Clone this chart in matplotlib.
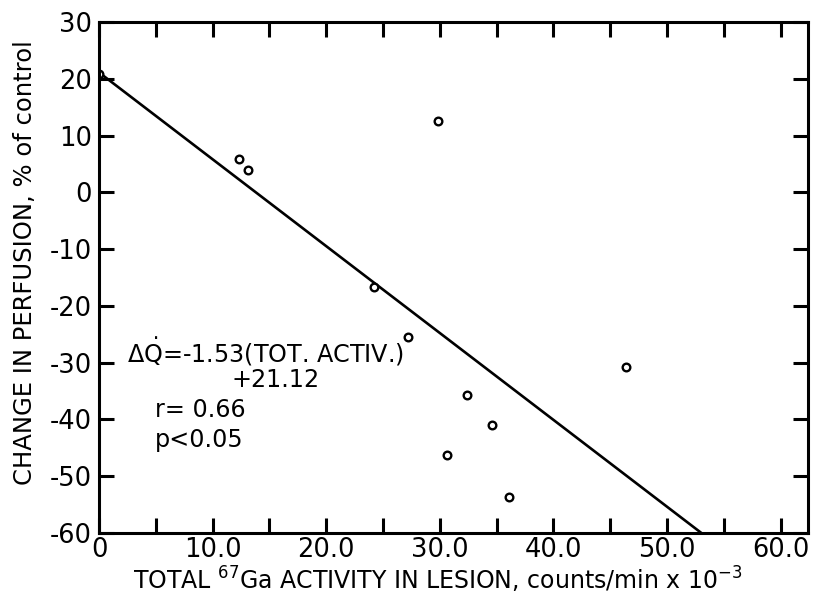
import matplotlib
matplotlib.use("Agg")
import matplotlib.pyplot as plt
import numpy as np

plt.rcParams['axes.unicode_minus'] = False
plt.rcParams['mathtext.default'] = 'regular'
plt.rcParams['font.family'] = ['DejaVu Sans']

# data points
activity = [0.0, 12.3, 13.1, 24.2, 27.2, 29.8, 30.6, 32.4, 34.6, 36.1, 46.4]
perfusion = [20.8, 5.9, 3.9, -16.7, -25.5, 12.6, -46.2, -35.7, -40.9, -53.6, -30.7]

# regression: dQ = -1.53 * activity + 21.12
slope = -1.53
intercept = 21.12

xticks = [0, 10, 20, 30, 40, 50, 60]
xticklabels = ["0", "10.0", "20.0", "30.0", "40.0", "50.0", "60.0"]
yticks = [30, 20, 10, 0, -10, -20, -30, -40, -50, -60]

fig = plt.figure(figsize=(8.13, 5.97), dpi=100)
ax = fig.add_axes([0.1218, 0.1072, 0.872, 0.8559])

xl = np.array([0, 62.4])
ax.plot(xl, slope * xl + intercept, color="black", lw=1.9)
ax.plot(activity, perfusion, "o", mfc="white", mec="black", ms=5.5, mew=1.7)

ax.set_xlim(0, 62.4)
ax.set_ylim(-60, 30)
ax.set_xticks(xticks)
ax.set_xticklabels(xticklabels)
ax.set_xticks([5, 15, 25, 35, 45, 55], minor=True)
ax.set_yticks(yticks)

for s in ax.spines.values():
    s.set_linewidth(2.2)
ax.tick_params(which="both", direction="in", top=True, right=True,
               length=11, width=2.2, labelsize=18.5, pad=5)
ax.tick_params(axis="x", pad=3)

ax.set_ylabel("CHANGE IN PERFUSION, % of control", fontsize=17.5)
ax.yaxis.set_label_coords(-0.088, 0.53)
ax.set_xlabel("TOTAL $^{67}$Ga ACTIVITY IN LESION, counts/min x 10$^{-3}$",
              fontsize=17)
ax.xaxis.set_label_coords(0.478, -0.063)

ax.text(2.5, -29.9, r"$\Delta\dot{Q}$=-1.53(TOT. ACTIV.)", fontsize=17.2)
ax.text(11.7, -34.3, "+21.12", fontsize=17.2)
ax.text(4.9, -39.5, "r= 0.66", fontsize=17.2)
ax.text(4.9, -44.8, "p<0.05", fontsize=17.2)

fig.savefig("out.png", dpi=100)
